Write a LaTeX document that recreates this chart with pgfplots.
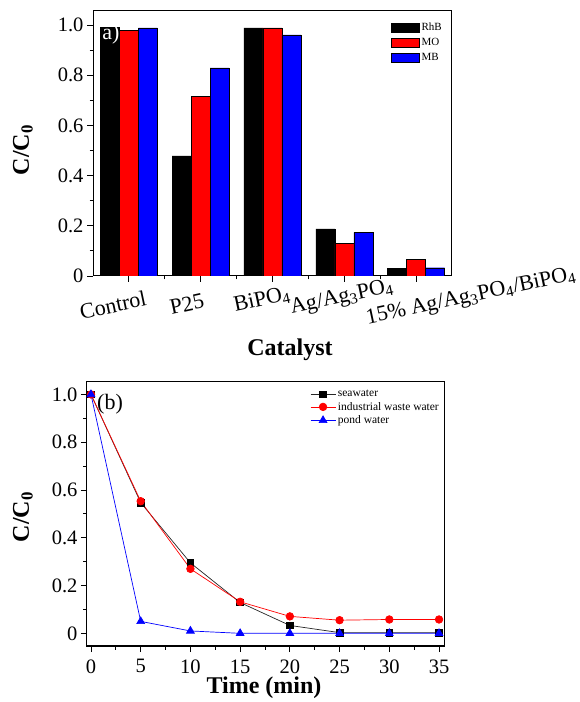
\documentclass[border=0pt]{standalone}
\usepackage{fontspec}
\setmainfont{Liberation Serif}
\usepackage{pgfplots}
\pgfplotsset{compat=1.18}

\newcommand\fs[1]{\fontsize{#1}{#1}\selectfont}

\pgfplotsset{
  panel/.style={
    scale only axis,
    axis line style={line width=1pt},
    tick style={black, line width=0.9pt},
    major tick length=6pt,
    minor tick length=3.5pt,
    tick align=outside,
    xtick pos=bottom, ytick pos=left,
    ticklabel style={font=\fs{20.5}},
    /pgf/number format/assume math mode=true,
    ytick={0,0.2,0.4,0.6,0.8,1.0},
    yticklabels={0,0.2,0.4,0.6,0.8,1.0},
    minor y tick num=1,
    minor x tick num=1,
  },
}

\begin{document}
\begin{tikzpicture}
\useasboundingbox (0,0) rectangle (580pt,702pt);

% (a) bar chart
\begin{axis}[panel,
  at={(93pt,426pt)}, anchor=south west,
  width=359pt, height=265pt,
  xmin=0.5, xmax=5.5, ymin=0, ymax=1.056,
  ybar=0pt, bar width=19pt,
  xtick={1,2,3,4,5}, xticklabels={},
  every axis plot post/.append style={
    legend image code/.code={\draw[##1,draw=black] (0pt,-4.5pt) rectangle (28pt,4.5pt);}},
  legend style={at={(1,1)}, anchor=north east, xshift=-8pt, yshift=-10pt,
    draw=none, fill=none, font=\fs{11}, row sep=2pt, inner sep=0pt,
    /tikz/every even column/.append style={column sep=2pt}},
  legend cell align=left,
]
\addplot[fill=black, draw=black] coordinates {(1,0.99) (2,0.479) (3,0.989) (4,0.188) (5,0.031)};
\addplot[fill=red, draw=black] coordinates {(1,0.98) (2,0.717) (3,0.989) (4,0.131) (5,0.065)};
\addplot[fill=blue, draw=black] coordinates {(1,0.989) (2,0.829) (3,0.961) (4,0.174) (5,0.033)};
\legend{RhB,MO,MB}
\end{axis}
\node[text=white, font=\fs{22}] at (111pt,668pt) {a)};
\node[rotate=90, font=\fs{24}\bfseries] at (23pt,552pt) {C/C\textsubscript{0}};
\node[font=\fs{24}\bfseries] at (290pt,352pt) {Catalyst};
\begin{scope}[every node/.style={rotate=12, font=\fs{22}, inner sep=0pt}]
\node at (113pt,397pt) {Control};
\node at (187pt,398pt) {P25};
\node at (262pt,402pt) {BiPO\textsubscript{4}};
\node at (342pt,404pt) {Ag/Ag\textsubscript{3}PO\textsubscript{4}};
\node at (471pt,405pt) {15\% Ag/Ag\textsubscript{3}PO\textsubscript{4}/BiPO\textsubscript{4}};
\end{scope}

% (b) time course
\begin{axis}[panel,
  at={(87pt,56pt)}, anchor=south west,
  width=357pt, height=264pt,
  xmin=-0.4, xmax=35.5, ymin=-0.053, ymax=1.052,
  xtick={0,5,10,15,20,25,30,35},
  xticklabel style={yshift=-4pt},
  clip=false,
  legend image code/.code={\draw[mark repeat=2,mark phase=2,#1] plot coordinates {(0pt,0pt) (12.5pt,0pt) (25pt,0pt)};},
  legend style={at={(1,1)}, anchor=north east, xshift=-3pt, yshift=-6pt,
    draw=none, fill=none, font=\fs{11.5}, row sep=0pt, inner sep=0pt,
    /tikz/every even column/.append style={column sep=2pt}},
  legend cell align=left,
]
\addplot[black!85, line width=0.7pt, mark=square*, mark size=3.3pt, mark options={fill=black, draw=black}]
  coordinates {(0,1.0) (5,0.547) (10,0.295) (15,0.129) (20,0.033) (25,0.003) (30,0.003) (35,0.003)};
\addplot[red, line width=0.7pt, mark=*, mark size=3.8pt, mark options={fill=red, draw=red}]
  coordinates {(0,1.0) (5,0.553) (10,0.27) (15,0.132) (20,0.071) (25,0.055) (30,0.058) (35,0.058)};
\addplot[blue, line width=0.7pt, mark=triangle*, mark size=4.5pt, mark options={fill=blue, draw=blue}]
  coordinates {(0,1.0) (5,0.05) (10,0.01) (15,0.0) (20,0.0) (25,0.0) (30,0.0) (35,0.0)};
\legend{seawater,industrial waste water,pond water}
\end{axis}
\node[font=\fs{22}] at (110pt,298pt) {(b)};
\node[rotate=90, font=\fs{24}\bfseries] at (23pt,185pt) {C/C\textsubscript{0}};
\node[font=\fs{24}\bfseries] at (264pt,14pt) {Time (min)};
\end{tikzpicture}
\end{document}
